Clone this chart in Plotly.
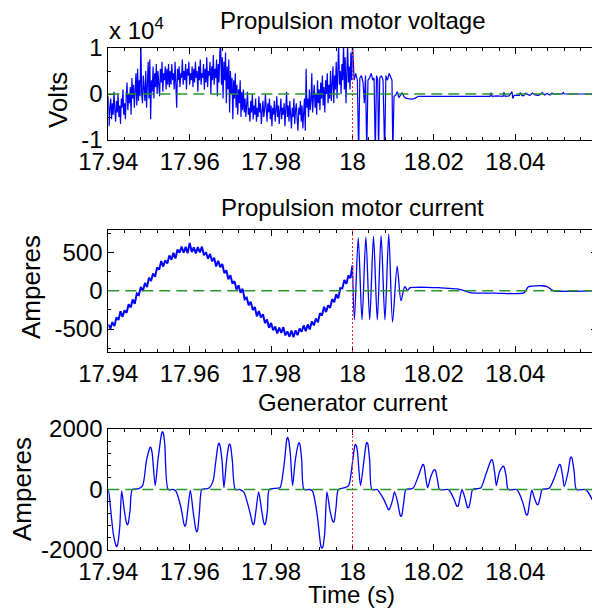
import numpy as np
import plotly.graph_objects as go

# ---------------- data ----------------
x_range = [17.94, 18.06]
x_tick_vals = [17.94, 17.96, 17.98, 18.0, 18.02, 18.04]
x_tick_text = ["17.94", "17.96", "17.98", "18", "18.02", "18.04"]
fault_time = 18.0
zero_level = 0

panel_titles = ["Propulsion motor voltage", "Propulsion motor current", "Generator current"]
y_labels = ["Volts", "Amperes", "Amperes"]
x_label = "Time (s)"
volt_exponent_label = "x 10<sup>4</sup>"

volt_tick_vals = [-1, 0, 1]
volt_tick_text = ["-1", "0", "1"]
amp_tick_vals = [-500, 0, 500]
amp_tick_text = ["-500", "0", "500"]
gen_tick_vals = [-2000, 0, 2000]
gen_tick_text = ["-2000", "0", "2000"]

# Propulsion motor voltage (units of 1e4 V), uniformly sampled 17.94 .. 18.00
volt_pre_start, volt_pre_end = 17.94, 18.0
volt_pre = [
    -0.05, -0.7, -0.3, -0.1, -0.55, -0.2, -0.45, 0.05, -0.35, -0.6, -0.15, -0.4, 0.0, -0.5, -0.25, -0.65,
    -0.1, -0.3, 0.1, -0.45, -0.2, -0.55, -0.05,
    0.25, -0.35, 0.0, -0.2, 0.15, -0.45, 0.35, -0.1, 0.2, -0.3, 0.05, 0.45, -0.25, 0.55, -0.15, 0.3,
    -0.05, 1.1, 0.0, -0.2, 0.4, 0.1, -0.15, 0.5, -0.3, 0.2, 0.7, -0.1,
    0.75, -0.55, 0.3, 0.05, 0.6, -0.1, 0.45, 0.15, 0.65, 0.0, 0.5, 0.2, -0.05, 0.55, 0.25, 0.7, 0.05,
    0.45, 0.3, 0.6, 0.1, 0.55, 0.2, 0.65, 0.15,
    0.5, 0.2, 0.65, 0.3, 0.45, 0.1, 0.7, 0.25, -0.3, 0.55, 0.3, 0.6, 0.15, 0.45, 0.35, 0.75, 0.2, 0.5,
    0.3, 0.65, 0.1, 0.55, 0.4, 0.7, 0.2, 0.45, 0.3, 0.6, 0.15, 0.55,
    0.25, 0.7, 0.35, 0.5, 0.05, 0.6, 0.3, 0.75, 0.2, 0.45, 0.35, 0.65, 0.1, 0.55, 0.25, 0.8, 0.15, 0.5,
    0.4, 0.7, 0.0, 0.6, 0.3, 0.85, 0.2, 0.55, 0.35, 0.75, -0.05, 0.65, 0.25, 0.9,
    1.1, 0.2, 0.8, -0.1, 0.7, 0.3, 0.9, -0.2, 0.6, 0.1, 0.75,
    -0.4, 0.5, 0.0, 0.35, -0.55, 0.3, -0.1, 0.45, -0.3, 0.2, -0.45, 0.1, -0.2, 0.3, -0.5, 0.05, -0.35,
    0.1, -0.4,
    -0.1, -0.5, -0.2, 0.05, -0.45, -0.3, -0.6, -0.15, -0.4, 0.0, -0.55, -0.25, -0.45, -0.1, -0.6, -0.3,
    -0.5, -0.05, -0.4, -0.2, -0.65, -0.3, -0.15, -0.5, -0.35, 0.0, -0.45, -0.6, -0.2, -0.4, -0.1, -0.55,
    -0.25, -0.7, -0.3, -0.45, -0.15, -0.6, -0.35, -0.05, -0.5, -0.25, -0.65, -0.4, -0.1, -0.55, -0.3,
    -0.45, -0.2, -0.7, -0.35, 0.05, -0.5, -0.25, -0.6, -0.15, -0.45, -0.75, -0.3, -0.5, -0.1, -0.65,
    -0.35, -0.2, -0.55, -0.8, -0.3, -0.45, -0.15, -0.6, -0.25, -0.75, -0.4, -0.1, -0.8,
    0.55, -0.3, -0.1, -0.5, 0.1, -0.35, -0.15, 0.45, -0.4, -0.05, 0.2, -0.3, 0.0, -0.45, 0.3, -0.2, 0.1,
    -0.35, 0.25, -0.1, 0.4, -0.25, 0.15, -0.4, 0.3, 0.0, 0.45, -0.2, 0.2, -0.1,
    0.5, -0.15, 0.35, 0.6, -0.2, 0.4, 0.1, 0.7, -0.1, 0.55, 1.1, 0.2, 0.5, 0.0, 0.65, 0.3, 1.1, 0.1, 0.8,
    -0.2, 0.45, 1.1, 0.25, 0.6, 0.1, 0.9, 0.3, 1.1,
]
volt_post_time = [18.0, 18.0004, 18.0008, 18.0012, 18.0015, 18.0018, 18.0022, 18.0026, 18.0029, 18.0032,
                  18.0035, 18.0038, 18.0042, 18.0046, 18.005, 18.0053, 18.0056, 18.0059, 18.0062, 18.0064,
                  18.0067, 18.0071, 18.0075, 18.0079, 18.0082, 18.0086, 18.009, 18.0094, 18.0097, 18.0099,
                  18.0102, 18.0106, 18.011, 18.0114, 18.0118, 18.0122, 18.0126, 18.0129, 18.0135, 18.0145,
                  18.0152, 18.0158, 18.0162, 18.02, 18.03, 18.0338, 18.034, 18.0343, 18.0355, 18.037,
                  18.0372, 18.0375, 18.0385, 18.0392, 18.0394, 18.0397, 18.04, 18.041, 18.0412, 18.0416,
                  18.042, 18.0426, 18.0432, 18.0436, 18.0442, 18.0448, 18.0455, 18.046, 18.0466, 18.0472,
                  18.0478, 18.0485, 18.049, 18.0497, 18.05, 18.0515, 18.0518, 18.052, 18.06]
volt_post = [1.1, 0.3, 0.45, 0.3, -1.3, 0.35, 0.4, 0.25, -0.2, 0.4,
             -1.3, 0.3, 0.35, 0.45, 0.3, 0.35, -1.3, 0.4, 0.3, -1.3,
             0.35, 0.4, 0.3, -1.3, 0.4, 0.3, 0.45, 0.35, 0.3, -1.3,
             -0.05, -0.03, 0.05, -0.08, -0.03, 0.03, -0.05, -0.08, -0.1, -0.11,
             -0.1, -0.06, -0.05, -0.05, -0.05, -0.05, 0.03, -0.05, -0.04, -0.05,
             0.04, -0.05, -0.04, 0.05, -0.1, -0.03, -0.03, -0.03, 0.03, -0.03,
             -0.04, 0.02, -0.02, -0.03, 0.02, -0.02, -0.03, -0.02, 0.03, -0.02,
             0.01, -0.02, 0.02, -0.01, 0.0, 0.0, 0.03, 0.0, 0.0]

# Propulsion motor current (A), uniformly sampled 17.94 .. 18.00, then post-fault
cur_pre_start, cur_pre_end = 17.94, 18.0
cur_pre = [-440, -495, -410, -462, -348, -381, -269, -340, -255, -288,
           -176, -218, -115, -170, -35, -55, 50, -5, 100, 50,
           170, 128, 226, 183, 305, 275, 389, 316, 398, 357,
           460, 406, 495, 422, 538, 496, 577, 496, 573, 492,
           625, 505, 567, 488, 571, 502, 576, 463, 502, 420,
           481, 385, 432, 318, 392, 309, 350, 230, 268, 151,
           204, 95, 125, 15, 70, -25, 25, -110, -90, -190,
           -144, -251, -213, -335, -265, -349, -307, -423, -377, -485,
           -421, -515, -467, -558, -481, -552, -476, -583, -532, -600,
           -520, -607, -518, -581, -492, -536, -453, -527, -440, -506,
           -400, -452, -363, -411, -294, -325, -210, -278, -191, -223,
           -110, -150, -45, -100, 35, 30, 140, 90, 200, 165,
           330]
cur_post_time = [18.0, 18.00047, 18.00141, 18.00234, 18.00328, 18.00422, 18.00516, 18.00609, 18.00703, 18.00797,
                 18.00891, 18.00984, 18.01097, 18.01191, 18.01284, 18.0135, 18.01416, 18.01547, 18.01828, 18.02109,
                 18.02391, 18.02578, 18.02719, 18.02859, 18.03, 18.03516, 18.04219, 18.04313, 18.04406, 18.04641,
                 18.04781, 18.04875, 18.04941, 18.06]
cur_post = [330, -380, 690, -380, 700, -380, 710, -380, 720, -380,
            740, -410, 320, -130, 55, 5, 40, 45, 45, 40,
            30, 25, 5, -20, -30, -30, -25, 50, 60, 65,
            55, 20, 0, 0]

# Generator current (A)
gen_time = [
    17.94, 17.94019, 17.94122, 17.94186, 17.94206, 17.94226, 17.94281, 17.94328, 17.94394, 17.94449,
    17.94469, 17.94489, 17.94534, 17.94591, 17.9475,
    17.94844, 17.94938, 17.95011, 17.95031, 17.95051, 17.95078, 17.95153, 17.95219, 17.95311, 17.95331,
    17.95351, 17.95388, 17.95472, 17.95594,
    17.95659, 17.95781, 17.95864, 17.95884, 17.95904, 17.9595, 17.96016, 17.96091, 17.96155, 17.96175,
    17.96195, 17.96241, 17.96297, 17.96391,
    17.96484, 17.96578, 17.96634, 17.96699, 17.96719, 17.96739, 17.96794, 17.96841, 17.96906, 17.96961,
    17.96981, 17.97001, 17.97047, 17.97122, 17.97234,
    17.97328, 17.97469, 17.97543, 17.97563, 17.97583, 17.97628, 17.97694, 17.97769, 17.97824, 17.97844,
    17.97864, 17.97909, 17.97956, 17.98125,
    17.98219, 17.98313, 17.98386, 17.98406, 17.98426, 17.98472, 17.98528, 17.98594, 17.98668, 17.98688,
    17.98708, 17.98753, 17.98809, 17.98941,
    17.99016, 17.99128, 17.99203, 17.9923, 17.9925, 17.9927, 17.99316, 17.99372, 17.99447, 17.99511,
    17.99531, 17.99551, 17.99597, 17.99653, 17.99813,
    17.99906, 18.0, 18.00055, 18.00075, 18.00095, 18.00122, 18.00197, 18.00281, 18.00336, 18.00356,
    18.00376, 18.00422, 18.00478, 18.00609,
    18.00656, 18.00778, 18.00871, 18.00891, 18.00911, 18.00984, 18.01031, 18.01097, 18.01171, 18.01191,
    18.01211, 18.01266, 18.01313, 18.01453,
    18.015, 18.01613, 18.01714, 18.01734, 18.01754, 18.01809, 18.01847, 18.01922, 18.01996, 18.02016,
    18.02036, 18.02091, 18.02138, 18.02344,
    18.02391, 18.02503, 18.02558, 18.02578, 18.02598, 18.02644, 18.02691, 18.02766, 18.02821, 18.02841,
    18.02861, 18.02906, 18.02953, 18.03094,
    18.03159, 18.03281, 18.03402, 18.03422, 18.03442, 18.03497, 18.03534, 18.03609, 18.03683, 18.03703,
    18.03723, 18.03778, 18.03825, 18.04031,
    18.04078, 18.04191, 18.04264, 18.04284, 18.04304, 18.04359, 18.04406, 18.04472, 18.04527, 18.04547,
    18.04567, 18.04613, 18.04659, 18.04781,
    18.04847, 18.04969, 18.05071, 18.05091, 18.05111, 18.05166, 18.05203, 18.05297, 18.05352, 18.05372,
    18.05392, 18.05447, 18.05503, 18.05719,
    18.05766, 18.05859, 18.06,
]
gen_current = [
    -20, -150, -1450, -1840, -1890, -1840, -1250, -50, -700, -1120,
    -1170, -1120, -700, 0, 30,
    130, 960, 1350, 1400, 1370, 1200, 130, 960, 1850, 1910,
    1860, 1500, 0, 0,
    -50, -570, -1170, -1220, -1170, -700, -20, -800, -1350, -1400,
    -1350, -700, 0, 20,
    60, 300, 860, 1480, 1530, 1480, 960, 60, 960, 1460,
    1510, 1460, 960, 0, 0,
    -80, -700, -1120, -1170, -1120, -700, -80, -700, -1120, -1170,
    -1120, -700, 0, 40,
    60, 750, 1660, 1720, 1660, 1190, 130, 960, 1500, 1550,
    1500, 960, 0, 0,
    -50, -800, -1690, -1910, -1940, -1900, -1470, -80, -700, -1040,
    -1080, -1040, -570, 0, 60,
    130, 900, 1440, 1490, 1450, 1250, 130, 960, 1510, 1560,
    1510, 960, 0, 0,
    -80, -350, -640, -670, -640, -350, -80, -350, -850, -890,
    -850, -350, 0, 20,
    60, 420, 800, 830, 800, 300, 60, 420, 640, 660,
    640, 300, 0, 0,
    -50, -350, -540, -560, -540, -250, 0, -300, -580, -600,
    -580, -300, 0, 30,
    60, 520, 960, 990, 960, 520, 130, 580, 750, 770,
    750, 420, 0, 0,
    -80, -460, -820, -850, -820, -350, -20, -300, -480, -500,
    -480, -250, 0, 20,
    60, 420, 800, 830, 800, 420, 100, 580, 1040, 1080,
    1040, 580, 0, 0,
    -50, -250, -620,
]

# ---------------- figure ----------------
# The page body has an 8 px margin, so the figure is 8 px smaller and all
# reference pixel positions are shifted by OFF.
PAGE_W, PAGE_H = 600, 609
OFF = 8
W, H = PAGE_W - OFF, PAGE_H - OFF


def px_x(x):
    return (x - OFF) / W


def px_y(y):
    return 1 - (y - OFF) / H


FONT = "Liberation Sans, Arial, Helvetica, sans-serif"
BLUE = "#0000ff"
GREEN = "rgb(40,150,40)"
RED = "rgb(255,40,40)"

x_dom = [px_x(108.3), px_x(596.7)]
y_doms = [
    [px_y(140), px_y(48)],
    [px_y(352), px_y(229.5)],
    [px_y(550), px_y(429)],
]
y_ranges = [[-1, 1], [-800, 800], [-2000, 2000]]
y_ticks = [volt_tick_vals, amp_tick_vals, gen_tick_vals]
y_ticktext = [volt_tick_text, amp_tick_text, gen_tick_text]
y_minor = [0.5, 250, 400]

volt_pre_t = np.linspace(volt_pre_start, volt_pre_end, len(volt_pre))
cur_pre_t = np.linspace(cur_pre_start, cur_pre_end, len(cur_pre))

fig = go.Figure()
fig.add_trace(go.Scatter(x=volt_pre_t, y=volt_pre, mode="lines", line=dict(color=BLUE, width=1.2),
                         xaxis="x", yaxis="y", showlegend=False))
fig.add_trace(go.Scatter(x=volt_post_time, y=volt_post, mode="lines", line=dict(color=BLUE, width=1.2),
                         xaxis="x", yaxis="y", showlegend=False))
fig.add_trace(go.Scatter(x=cur_pre_t, y=cur_pre, mode="lines", line=dict(color=BLUE, width=2),
                         xaxis="x2", yaxis="y2", showlegend=False))
fig.add_trace(go.Scatter(x=cur_post_time, y=cur_post, mode="lines",
                         line=dict(color=BLUE, width=1.3, shape="spline", smoothing=0.8),
                         xaxis="x2", yaxis="y2", showlegend=False))
fig.add_trace(go.Scatter(x=gen_time, y=gen_current, mode="lines",
                         line=dict(color=BLUE, width=1.3, shape="spline", smoothing=0.7),
                         xaxis="x3", yaxis="y3", showlegend=False))

layout = dict(width=W, height=H, margin=dict(l=0, r=0, t=0, b=0),
              paper_bgcolor="white", plot_bgcolor="white",
              font=dict(family=FONT, color="black", size=24), showlegend=False)

shapes = []
annotations = []
for i in range(3):
    sx = "" if i == 0 else str(i + 1)
    layout["xaxis" + sx] = dict(
        domain=x_dom, range=x_range, anchor="y" + sx,
        tickmode="array", tickvals=x_tick_vals, ticktext=x_tick_text,
        ticks="inside", ticklen=6, tickwidth=1, tickcolor="black",
        showline=True, linecolor="black", linewidth=1, mirror="allticks",
        showgrid=False, zeroline=False, automargin=False,
        tickfont=dict(family=FONT, size=24, color="black"),
        minor=dict(ticks="inside", ticklen=3, tick0=17.94, dtick=0.004, tickcolor="black", showgrid=False),
    )
    layout["yaxis" + sx] = dict(
        domain=y_doms[i], range=y_ranges[i], anchor="x" + sx,
        tickmode="array", tickvals=y_ticks[i], ticktext=y_ticktext[i],
        ticks="inside", ticklen=6, tickwidth=1, tickcolor="black",
        showline=True, linecolor="black", linewidth=1, mirror="allticks",
        showgrid=False, zeroline=False, automargin=False,
        tickfont=dict(family=FONT, size=24, color="black"),
        minor=dict(ticks="inside", ticklen=3, tick0=0, dtick=y_minor[i], tickcolor="black", showgrid=False),
    )
    # fault-time marker and zero reference
    shapes.append(dict(type="line", xref="x" + sx, yref="y" + sx + " domain", x0=fault_time, x1=fault_time,
                       y0=0, y1=1, line=dict(color=RED, width=1, dash="2px,2px"), layer="above"))
    shapes.append(dict(type="line", xref="x" + sx + " domain", yref="y" + sx, x0=0, x1=1,
                       y0=zero_level, y1=zero_level, line=dict(color=GREEN, width=1.3, dash="11px,6px"),
                       layer="above"))

title_y = [21, 208, 402]
for i in range(3):
    annotations.append(dict(text=panel_titles[i], xref="paper", yref="paper", x=(x_dom[0] + x_dom[1]) / 2,
                            y=px_y(title_y[i]), xanchor="center", yanchor="middle", showarrow=False,
                            font=dict(family=FONT, size=24, color="black")))

ylab_pos = [(58, 100), (31, 287), (22, 489)]
for i in range(3):
    annotations.append(dict(text=y_labels[i], xref="paper", yref="paper", x=px_x(ylab_pos[i][0]),
                            y=px_y(ylab_pos[i][1]), xanchor="center", yanchor="middle", textangle=-90,
                            showarrow=False, font=dict(family=FONT, size=26, color="black")))

annotations.append(dict(text=x_label, xref="paper", yref="paper", x=px_x(352), y=px_y(594),
                        xanchor="center", yanchor="middle", showarrow=False,
                        font=dict(family=FONT, size=24, color="black")))
annotations.append(dict(text=volt_exponent_label, xref="paper", yref="paper", x=px_x(107), y=px_y(46),
                        xanchor="left", yanchor="bottom", showarrow=False,
                        font=dict(family=FONT, size=24, color="black")))

layout["shapes"] = shapes
layout["annotations"] = annotations
fig.update_layout(**layout)
fig.write_html("out.html")
